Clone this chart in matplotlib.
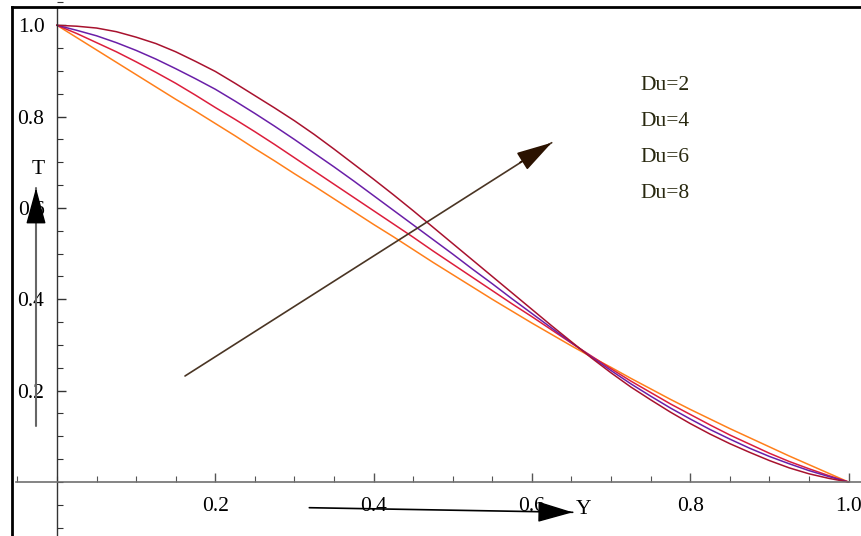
import matplotlib
matplotlib.use("Agg")
import matplotlib.pyplot as plt
from matplotlib.ticker import FixedLocator, MultipleLocator
from matplotlib.lines import Line2D

# ---------------- data ----------------
Y_vals = [0.000, 0.025, 0.050, 0.075, 0.100, 0.125, 0.150, 0.175, 0.200, 0.225,
          0.250, 0.275, 0.300, 0.325, 0.350, 0.375, 0.400, 0.425, 0.450, 0.475,
          0.500, 0.525, 0.550, 0.575, 0.600, 0.625, 0.650, 0.675, 0.700, 0.725,
          0.750, 0.775, 0.800, 0.825, 0.850, 0.875, 0.900, 0.925, 0.950, 0.975, 1.000]
T_du2 = [1.000, 0.973, 0.946, 0.919, 0.892, 0.865, 0.838, 0.812, 0.785, 0.758,
         0.730, 0.703, 0.675, 0.648, 0.620, 0.592, 0.564, 0.537, 0.509, 0.481,
         0.454, 0.427, 0.400, 0.374, 0.348, 0.323, 0.298, 0.274, 0.251, 0.227,
         0.204, 0.181, 0.159, 0.138, 0.117, 0.097, 0.077, 0.057, 0.038, 0.019, 0.000]
T_du4 = [1.000, 0.982, 0.962, 0.942, 0.920, 0.897, 0.873, 0.847, 0.820, 0.794,
         0.767, 0.739, 0.710, 0.681, 0.652, 0.623, 0.594, 0.565, 0.536, 0.506,
         0.477, 0.448, 0.419, 0.390, 0.362, 0.333, 0.304, 0.276, 0.248, 0.221,
         0.196, 0.171, 0.148, 0.125, 0.103, 0.083, 0.063, 0.045, 0.029, 0.014, 0.000]
T_du6 = [1.000, 0.989, 0.977, 0.962, 0.945, 0.926, 0.905, 0.883, 0.860, 0.834,
         0.807, 0.779, 0.750, 0.720, 0.690, 0.659, 0.627, 0.595, 0.563, 0.531,
         0.499, 0.466, 0.434, 0.401, 0.369, 0.337, 0.305, 0.274, 0.244, 0.215,
         0.188, 0.162, 0.138, 0.115, 0.094, 0.074, 0.056, 0.040, 0.025, 0.012, 0.000]
T_du8 = [1.000, 0.998, 0.994, 0.986, 0.974, 0.960, 0.942, 0.921, 0.899, 0.873,
         0.846, 0.819, 0.791, 0.761, 0.729, 0.696, 0.663, 0.629, 0.594, 0.558,
         0.522, 0.486, 0.450, 0.414, 0.378, 0.342, 0.307, 0.272, 0.239, 0.208,
         0.180, 0.153, 0.128, 0.105, 0.084, 0.065, 0.047, 0.031, 0.018, 0.008, 0.000]
series_labels = ["Du=2", "Du=4", "Du=6", "Du=8"]
series_colors = ["#ff7f1a", "#dc1e3c", "#6a1fa8", "#a8122e"]
x_major = [0.2, 0.4, 0.6, 0.8, 1.0]
y_major = [0.2, 0.4, 0.6, 0.8, 1.0]
x_ticklabels = ["0.2", "0.4", "0.6", "0.8", "1.0"]
y_ticklabels = ["0.2", "0.4", "0.6", "0.8", "1.0"]

# ---------------- figure ----------------
W, H = 861, 536
fig = plt.figure(figsize=(W / 100, H / 100), dpi=100)
ax = fig.add_axes([0, 0, 1, 1])
ax.set_facecolor("white")

X0, SX = 57.0, 791.5   # pixel of Y=0, pixels per unit
Y0, SY = 482.0, 456.7  # pixel row of T=0, pixels per unit
ax.set_xlim(-X0 / SX, (W - X0) / SX)
ax.set_ylim(-(H - Y0) / SY, Y0 / SY)

def px(x, y):
    return ((x - X0) / SX, (Y0 - y) / SY)

serif = "Liberation Serif"
fs = 15.5

for T, c in zip([T_du2, T_du4, T_du6, T_du8], series_colors):
    ax.plot(Y_vals, T, color=c, lw=1.1, solid_joinstyle="round")

# axes through origin
for s in ["top", "right"]:
    ax.spines[s].set_visible(False)
ax.spines["left"].set_position(("data", 0))
ax.spines["bottom"].set_position(("data", 0))
ax.spines["left"].set_bounds(-(H - Y0) / SY, (Y0 - 7) / SY)
ax.spines["bottom"].set_bounds((16 - X0) / SX, (W - X0) / SX)
ax.spines["left"].set_color("#333333")
ax.spines["bottom"].set_color("#707070")
ax.spines["left"].set_linewidth(1.0)
ax.spines["bottom"].set_linewidth(1.2)

ax.xaxis.set_major_locator(FixedLocator(x_major))
ax.yaxis.set_major_locator(FixedLocator(y_major))
ax.xaxis.set_minor_locator(MultipleLocator(0.05))
ax.yaxis.set_minor_locator(MultipleLocator(0.05))
ax.set_xticklabels(x_ticklabels)
ax.set_yticklabels(y_ticklabels)
ax.tick_params(axis="x", which="both", direction="in", colors="#555555")
ax.tick_params(axis="x", which="major", length=6.5, width=1.0, pad=11, labelsize=fs, labelcolor="black")
ax.tick_params(axis="x", which="minor", length=4, width=0.8)
ax.tick_params(axis="y", which="both", direction="in", colors="#333333")
ax.tick_params(axis="y", which="major", length=6.5, width=1.0, pad=9, labelsize=fs, labelcolor="black")
ax.tick_params(axis="y", which="minor", length=4, width=0.8)
for lab in ax.get_xticklabels() + ax.get_yticklabels():
    lab.set_fontfamily(serif)

# legend-like text
for i, lab in enumerate(series_labels):
    ax.text(*px(640.5, 85 + 36 * i), lab, fontsize=fs, family=serif,
            color="#28280f", ha="left", va="center")

# big diagonal arrow
ax.annotate("", xy=px(551.7, 142.7), xytext=px(185, 376),
            arrowprops=dict(arrowstyle="-", color="#4a3524", lw=1.2, shrinkA=0, shrinkB=0))
ax.annotate("", xy=px(551.7, 142.7), xytext=px(520, 162.5),
            arrowprops=dict(arrowstyle="-|>,head_length=1.6,head_width=0.45", mutation_scale=14,
                            color="#2b1200", lw=1.2, shrinkA=0, shrinkB=0))

# T axis arrow
ax.annotate("", xy=px(36, 188), xytext=px(36, 426),
            arrowprops=dict(arrowstyle="-", color="#666666", lw=1.5, shrinkA=0, shrinkB=0))
ax.annotate("", xy=px(36, 188), xytext=px(36, 222),
            arrowprops=dict(arrowstyle="-|>,head_length=1.65,head_width=0.45", mutation_scale=14,
                            color="black", lw=1.0, shrinkA=0, shrinkB=0))
ax.text(*px(38, 170), "T", fontsize=fs, family=serif, ha="center", va="center")

# Y axis arrow
ax.annotate("", xy=px(572.7, 512.3), xytext=px(309.3, 507.7),
            arrowprops=dict(arrowstyle="-", color="black", lw=1.2, shrinkA=0, shrinkB=0))
ax.annotate("", xy=px(572.7, 512.3), xytext=px(541, 511.8),
            arrowprops=dict(arrowstyle="-|>,head_length=1.6,head_width=0.47", mutation_scale=14,
                            color="black", lw=1.0, shrinkA=0, shrinkB=0))
ax.text(*px(584, 510), "Y", fontsize=fs, family=serif, ha="center", va="center")

# outer frame (left and top)
fx = 11.5 / W
fy = 1 - 7.3 / H
fig.add_artist(Line2D([fx, fx], [0, fy], transform=fig.transFigure, color="black", lw=2.0))
fig.add_artist(Line2D([fx, 1], [fy, fy], transform=fig.transFigure, color="black", lw=2.0))

fig.savefig("out.png", dpi=100, facecolor="white")
